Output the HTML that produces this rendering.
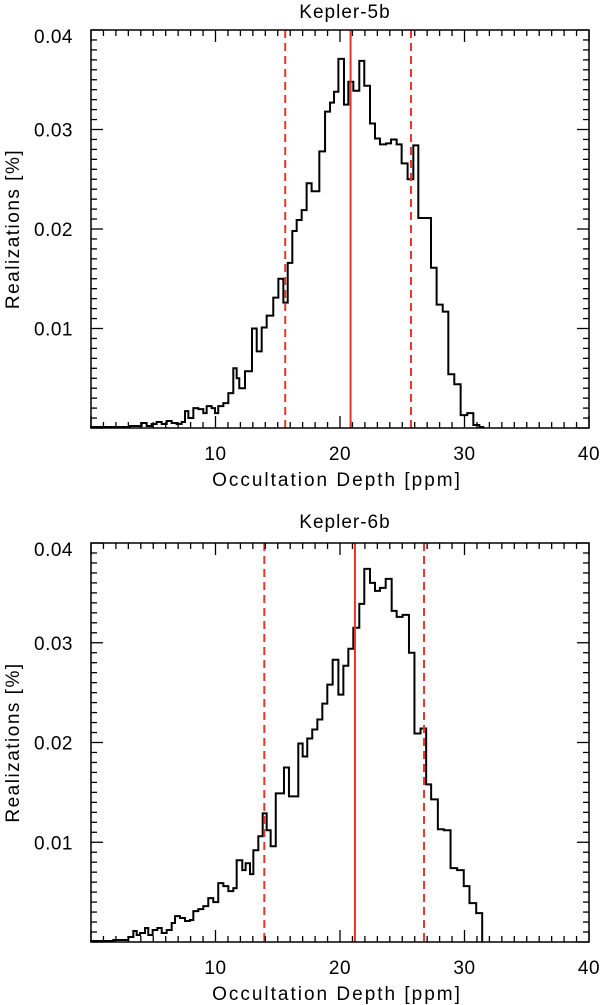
<!DOCTYPE html>
<html><head><meta charset="utf-8"><style>
html,body{margin:0;padding:0;background:#fff;}
svg{display:block;font-family:"Liberation Sans",sans-serif;}
</style></head><body>
<svg id="chart" width="602" height="1005" viewBox="0 0 602 1005" xmlns="http://www.w3.org/2000/svg"></svg>
<script>
// Kepler-5b data
const edges5b = [0,1.79,3.13,4.07,4.47,4.87,5.27,5.68,6.08,6.48,6.88,7.28,7.55,7.82,8.22,8.62,9.02,9.29,9.69,9.96,10.22,10.63,11.03,11.43,11.70,11.91,12.37,12.93,13.31,13.71,14.11,14.64,15.05,15.45,15.80,16.17,16.52,16.92,17.32,17.72,18.34,18.80,19.20,19.52,19.87,20.32,20.67,21.07,21.55,21.95,22.41,22.81,23.21,23.70,24.10,24.55,24.95,25.43,25.89,26.29,27.31,27.76,28.25,28.70,29.18,29.69,30.22,30.71,31.19,31.51];
const values5b = [0.0001,0.0001,0.0002,0.0005,0.0002,0.0004,0.0006,0.0004,0.0007,0.0005,0.0004,0.0006,0.0017,0.0010,0.0020,0.0019,0.0015,0.0022,0.0020,0.0015,0.0022,0.0025,0.0035,0.0060,0.0050,0.0040,0.0057,0.0100,0.0077,0.0101,0.0113,0.0131,0.0150,0.0126,0.0166,0.0198,0.0209,0.0219,0.0246,0.0238,0.0278,0.0318,0.0327,0.0338,0.0371,0.0325,0.0348,0.0339,0.0369,0.0344,0.0306,0.0291,0.0285,0.0286,0.0290,0.0285,0.0266,0.0250,0.0284,0.0211,0.0161,0.0124,0.0117,0.0054,0.0044,0.0013,0.0015,0.0003,0.0001];
const lines5b = [15.6, 20.85, 25.7];
// Kepler-6b data
const edges6b = [0,1.79,3.0,3.40,3.67,3.94,4.34,4.60,4.95,5.33,5.68,6.08,6.48,6.75,7.15,7.55,7.95,8.22,8.62,9.02,9.42,9.82,10.22,10.63,11.03,11.43,11.70,12.15,12.42,12.77,13.04,13.44,13.79,14.11,14.43,14.84,15.50,15.90,16.65,17.0,17.37,17.77,18.18,18.58,18.98,19.41,19.87,20.27,20.67,21.07,21.55,21.95,22.41,22.81,23.21,23.67,24.15,24.55,25.03,25.54,25.98,26.47,26.92,27.32,27.86,28.34,28.88,29.41,29.94,30.40,30.94,31.42];
const values6b = [0.0001,0.0002,0.0005,0.0011,0.0007,0.0009,0.0014,0.0007,0.0012,0.0014,0.0009,0.0012,0.0019,0.0026,0.0024,0.0021,0.0022,0.0031,0.0033,0.0036,0.0044,0.0040,0.0059,0.0056,0.0051,0.0054,0.0082,0.0072,0.0079,0.0068,0.0092,0.0106,0.0129,0.0112,0.0096,0.0149,0.0175,0.0146,0.0199,0.0186,0.0204,0.0213,0.0223,0.0239,0.0258,0.0283,0.0248,0.0277,0.0294,0.0315,0.0339,0.0374,0.0360,0.0352,0.0355,0.0364,0.0332,0.0326,0.0328,0.0290,0.0209,0.0214,0.0158,0.0143,0.0113,0.0112,0.0074,0.0072,0.0056,0.0039,0.0029];
const lines6b = [13.92, 21.2, 26.75];
const xTickLabels = ['10','20','30','40'];
const yTickLabels = ['0.01','0.02','0.03','0.04'];

const NS='http://www.w3.org/2000/svg';
const svg=document.getElementById('chart');
function mk(tag,attrs,parent){const e=document.createElementNS(NS,tag);for(const k in attrs)e.setAttribute(k,attrs[k]);(parent||svg).appendChild(e);return e;}

function panel(name,title,edges,values,lines,top,bottom,titleOff){
  const L=91,R=589;
  const g=mk('g',{});
  
  
  const xs=v=>L+(R-L)*v/40;
  const ys=v=>bottom-(bottom-top)*v/0.04;
  let d='M'+xs(edges[0])+','+ys(0);
  for(let i=0;i<values.length;i++){
    d+=' L'+xs(edges[i])+','+ys(values[i])+' L'+xs(edges[i+1])+','+ys(values[i]);
  }
  d+=' L'+xs(edges[values.length])+','+ys(0);
  const h=mk('path',{d:d,fill:'none',stroke:'#000','stroke-width':2,'stroke-linejoin':'miter'},g);
  
  
  lines.forEach((v,i)=>{
    const ln=mk('line',{x1:xs(v),x2:xs(v),y1:top,y2:bottom,stroke:'#e8352b','stroke-width':2},g);
    if(i!==1) ln.setAttribute('stroke-dasharray','8,5');
    
    
  });
  const fr=mk('rect',{x:L,y:top,width:R-L,height:bottom-top,fill:'none',stroke:'#000','stroke-width':1.5},g);
  
  
  for(let v=0;v<=40;v++){
    const len=(v%10===0)?12:6;
    mk('line',{x1:xs(v),x2:xs(v),y1:bottom,y2:bottom-len,stroke:'#000','stroke-width':1.3},g);
    mk('line',{x1:xs(v),x2:xs(v),y1:top,y2:top+len,stroke:'#000','stroke-width':1.3},g);
  }
  xTickLabels.forEach(t=>{
    const tx=mk('text',{x:xs(+t),y:bottom+32,'text-anchor':'middle','font-size':19,'letter-spacing':'0.5'},g);
    tx.textContent=t;
    
    
  });
  for(let k=0;k<=40;k++){
    const v=k*0.001;
    const len=(k%10===0)?12:6;
    mk('line',{x1:L,x2:L+len,y1:ys(v),y2:ys(v),stroke:'#000','stroke-width':1.3},g);
    mk('line',{x1:R,x2:R-len,y1:ys(v),y2:ys(v),stroke:'#000','stroke-width':1.3},g);
  }
  yTickLabels.forEach(t=>{
    const off=(+t>=0.04)?13:7;
    const ty=mk('text',{x:L-18,y:ys(+t)+off,'text-anchor':'end','font-size':19,'letter-spacing':'0.5'},g);
    ty.textContent=t;
    
    
  });
  const tt=mk('text',{x:(L+R)/2+5,y:top-titleOff,'text-anchor':'middle','font-size':19,'letter-spacing':'1'},g);
  tt.textContent=title;
  
  
  const xt=mk('text',{x:(L+R)/2-3,y:bottom+58,'text-anchor':'middle','font-size':19,'letter-spacing':'2'},g);
  xt.textContent='Occultation Depth [ppm]';
  
  
  const cy=(top+bottom)/2;
  const yt=mk('text',{x:19,y:cy,'text-anchor':'middle','font-size':19,'letter-spacing':'1.5',transform:'rotate(-90 19 '+cy+')'},g);
  yt.textContent='Realizations [%]';
  
  
}
panel('kepler-5b','Kepler-5b',edges5b,values5b,lines5b,30,428,12);
panel('kepler-6b','Kepler-6b',edges6b,values6b,lines6b,543,942,15);
</script>
</body></html>
